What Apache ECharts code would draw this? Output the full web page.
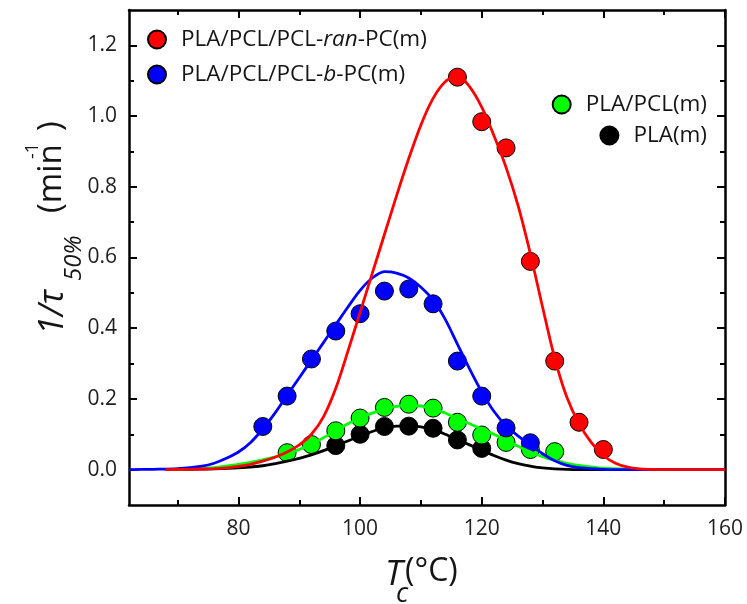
<!DOCTYPE html>
<html>
<head>
<meta charset="utf-8">
<script src="https://cdn.jsdelivr.net/npm/echarts@6/dist/echarts.min.js"></script>
<style>html,body{margin:0;padding:0;background:#fff}#c{width:747px;height:604px}</style>
</head>
<body>
<div id="c"></div>
<script>
// ---- measured points ----
const redX = [116, 120, 124, 128, 132, 136, 140];
const redY = [1.11, 0.984, 0.91, 0.589, 0.307, 0.134, 0.057];
const blueX = [84, 88, 92, 96, 100, 104, 108, 112, 116, 120, 124, 128];
const blueY = [0.122, 0.208, 0.313, 0.392, 0.441, 0.505, 0.511, 0.469, 0.307, 0.208, 0.118, 0.076];
const greenX = [88, 92, 96, 100, 104, 108, 112, 116, 120, 124, 128, 132];
const greenY = [0.048, 0.071, 0.11, 0.146, 0.176, 0.185, 0.174, 0.134, 0.098, 0.077, 0.057, 0.051];
const blackX = [96, 100, 104, 108, 112, 116, 120];
const blackY = [0.068, 0.1, 0.122, 0.123, 0.117, 0.084, 0.06];

// ---- fitted curves ----
const redFitX = [68, 72, 76, 78, 80, 82, 84, 86, 88, 90, 92, 94, 96, 98, 100, 102, 104, 106, 108, 110, 112, 114, 116, 118, 120, 122, 124, 126, 128, 130, 132, 134, 136, 138, 140, 142, 144, 146, 148, 152, 156, 160];
const redFitY = [0, 0.001, 0.003, 0.005, 0.009, 0.015, 0.024, 0.035, 0.05, 0.07, 0.1, 0.15, 0.23, 0.335, 0.445, 0.555, 0.665, 0.775, 0.88, 0.975, 1.05, 1.097, 1.114, 1.083, 1.025, 0.945, 0.855, 0.745, 0.61, 0.46, 0.315, 0.205, 0.13, 0.077, 0.04, 0.018, 0.007, 0.002, 0.0005, 0, 0, 0];
const blueFitX = [62, 66, 70, 74, 76, 78, 80, 82, 84, 86, 88, 90, 92, 94, 96, 98, 100, 102, 104, 106, 108, 110, 112, 114, 116, 118, 120, 122, 124, 126, 128, 130, 132, 134, 136, 140, 144, 148, 152, 156, 160];
const blueFitY = [0, 0.001, 0.003, 0.01, 0.018, 0.032, 0.05, 0.077, 0.115, 0.16, 0.21, 0.26, 0.31, 0.36, 0.41, 0.46, 0.507, 0.542, 0.56, 0.556, 0.542, 0.516, 0.48, 0.425, 0.355, 0.285, 0.22, 0.165, 0.124, 0.095, 0.07, 0.045, 0.025, 0.012, 0.006, 0.001, 0, 0, 0, 0, 0];
const greenFitX = [68, 72, 76, 80, 84, 88, 92, 96, 98, 100, 102, 104, 106, 108, 110, 112, 114, 116, 118, 120, 122, 124, 126, 128, 130, 132, 134, 136, 140, 144, 148, 152, 156, 160];
const greenFitY = [0, 0.002, 0.006, 0.015, 0.028, 0.045, 0.072, 0.11, 0.13, 0.147, 0.16, 0.171, 0.179, 0.182, 0.18, 0.172, 0.16, 0.144, 0.13, 0.115, 0.1, 0.083, 0.066, 0.05, 0.037, 0.026, 0.018, 0.012, 0.004, 0.001, 0, 0, 0, 0];
const blackFitX = [68, 72, 76, 80, 84, 88, 92, 96, 100, 102, 104, 106, 108, 110, 112, 114, 116, 118, 120, 122, 124, 126, 128, 130, 134, 140, 144, 148, 152, 156, 160];
const blackFitY = [0, 0.001, 0.002, 0.005, 0.011, 0.024, 0.042, 0.067, 0.095, 0.108, 0.118, 0.123, 0.124, 0.121, 0.113, 0.1, 0.085, 0.07, 0.055, 0.04, 0.027, 0.017, 0.01, 0.005, 0.001, 0, 0, 0, 0, 0, 0];

const xLabelValues = [80, 100, 120, 140, 160];
const xMinorValues = [70, 90, 110, 130, 150];
const yLabelValues = [0, 0.2, 0.4, 0.6, 0.8, 1.0, 1.2];
const yMinorValues = [0.1, 0.3, 0.5, 0.7, 0.9, 1.1];

const seriesNames = ['PLA/PCL/PCL-ran-PC(m)', 'PLA/PCL/PCL-b-PC(m)', 'PLA/PCL(m)', 'PLA(m)'];

const zip = (a, b) => a.map((v, i) => [v, b[i]]);
const FONT = '"Open Sans", "Noto Sans", sans-serif';
const AX = '#000';
const LBL = '#1e1e1e';
const TXT = '#151515';

function xAxisDef(pos, major, show) {
  return {
    type: 'value', min: 62, max: 160, position: pos, gridIndex: 0,
    axisLine: { show: show, onZero: false, lineStyle: { color: AX, width: 2.5 } },
    axisTick: { show: true, inside: true, length: major ? 8 : 5, customValues: major ? xLabelValues : xMinorValues, lineStyle: { color: AX, width: 2 } },
    axisLabel: { show: major && pos === 'bottom', customValues: xLabelValues, margin: 14, color: LBL, fontSize: 21, fontFamily: FONT },
    splitLine: { show: false }
  };
}
function yAxisDef(pos, major, show) {
  return {
    type: 'value', min: -0.1, max: 1.3, position: pos, gridIndex: 0,
    axisLine: { show: show, onZero: false, lineStyle: { color: AX, width: 2.5 } },
    axisTick: { show: true, inside: true, length: major ? 8 : 5, customValues: major ? yLabelValues : yMinorValues, lineStyle: { color: AX, width: 2 } },
    axisLabel: { show: major && pos === 'left', customValues: yLabelValues, margin: 12, color: LBL, fontSize: 21, fontFamily: FONT, formatter: v => v.toFixed(1) },
    splitLine: { show: false }
  };
}

function lineSeries(xs, ys, color) {
  return { type: 'line', name: '_fit_' + color, data: zip(xs, ys), smooth: 0.3, showSymbol: false, symbol: 'none',
    lineStyle: { color: color, width: 2.8 }, itemStyle: { color: color }, silent: true, animation: false, xAxisIndex: 0, yAxisIndex: 0 };
}
function scatterSeries(name, xs, ys, color) {
  return { type: 'scatter', name: name, data: zip(xs, ys), symbol: 'circle', symbolSize: 18,
    itemStyle: { color: color, borderColor: '#000', borderWidth: 1, opacity: 1 }, animation: false, xAxisIndex: 0, yAxisIndex: 0 };
}

const rich = {
  n: { fontSize: 22.5, fontFamily: FONT, color: TXT },
  i: { fontSize: 22.5, fontFamily: FONT, fontStyle: 'italic', color: TXT },
  p: { width: 10 }
};
const legendFmt = function (name) {
  if (name === seriesNames[0]) return '{p|}{n|PLA/PCL/PCL-}{i|ran}{n|-PC(m)}';
  if (name === seriesNames[1]) return '{p|}{n|PLA/PCL/PCL-}{i|b}{n|-PC(m)}';
  return '{p|}{n|' + name + '}';
};
const legendBase = { orient: 'vertical', icon: 'circle', itemWidth: 18, itemHeight: 18, selectedMode: false,
  formatter: legendFmt, textStyle: { rich: rich, fontSize: 22.5, fontFamily: FONT, color: TXT } };

const option = {
  animation: false,
  backgroundColor: '#fff',
  grid: { left: 129, right: 22, top: 10, bottom: 99, containLabel: false },
  xAxis: [xAxisDef('bottom', true, true), xAxisDef('bottom', false, false), xAxisDef('top', true, true), xAxisDef('top', false, false)],
  yAxis: [yAxisDef('left', true, true), yAxisDef('left', false, false), yAxisDef('right', true, true), yAxisDef('right', false, false)],
  legend: [
    Object.assign({}, legendBase, { data: [seriesNames[0], seriesNames[1]], left: 142, top: 23, itemGap: 12 }),
    Object.assign({}, legendBase, { data: [seriesNames[2]], right: 35, top: 88 }),
    Object.assign({}, legendBase, { data: [seriesNames[3]], right: 35, top: 119 })
  ],
  series: [
    lineSeries(blackFitX, blackFitY, '#000000'),
    scatterSeries(seriesNames[3], blackX, blackY, '#000000'),
    lineSeries(greenFitX, greenFitY, '#00ff00'),
    scatterSeries(seriesNames[2], greenX, greenY, '#00ff00'),
    lineSeries(blueFitX, blueFitY, '#0000ff'),
    scatterSeries(seriesNames[1], blueX, blueY, '#0000ff'),
    lineSeries(redFitX, redFitY, '#ff0000'),
    scatterSeries(seriesNames[0], redX, redY, '#ff0000')
  ],
  graphic: [
    { type: 'group', x: 53, y: 335, rotation: Math.PI / 2, silent: true, children: [
      { type: 'text', x: 0, y: 0, style: { text: '1/τ', fontSize: 34, fontStyle: 'italic', fontFamily: FONT, fill: TXT, align: 'left', verticalAlign: 'middle' } },
      { type: 'text', x: 54, y: 21, style: { text: '50%', fontSize: 24, fontStyle: 'italic', fontFamily: FONT, fill: TXT, align: 'left', verticalAlign: 'middle' } },
      { type: 'text', x: 122, y: -1, style: { text: '(min', fontSize: 33, fontFamily: FONT, fill: TXT, align: 'left', verticalAlign: 'middle' } },
      { type: 'text', x: 176, y: -20, style: { text: '-1', fontSize: 18, fontFamily: FONT, fill: TXT, align: 'left', verticalAlign: 'middle' } },
      { type: 'text', x: 204, y: -1, style: { text: ')', fontSize: 33, fontFamily: FONT, fill: TXT, align: 'left', verticalAlign: 'middle' } }
    ]},
    { type: 'text', x: 385, y: 575, silent: true, style: { text: 'T', fontSize: 35, fontStyle: 'italic', fontFamily: FONT, fill: TXT, align: 'left', verticalAlign: 'middle' } },
    { type: 'text', x: 396, y: 594, silent: true, style: { text: 'c', fontSize: 27, fontStyle: 'italic', fontFamily: FONT, fill: TXT, align: 'left', verticalAlign: 'middle' } },
    { type: 'text', x: 405, y: 572, silent: true, style: { text: '(°C)', fontSize: 32, fontFamily: FONT, fill: TXT, align: 'left', verticalAlign: 'middle' } }
  ]
};

const chart = echarts.init(document.getElementById('c'), null, { renderer: 'canvas' });
chart.setOption(option);
</script>
</body>
</html>
